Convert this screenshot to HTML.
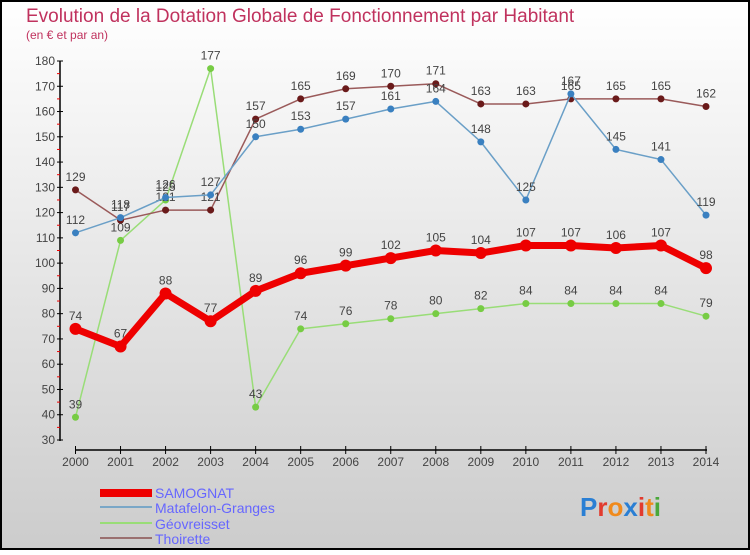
<!DOCTYPE html>
<html><head><meta charset="utf-8"><style>
html,body{margin:0;padding:0;}
body{width:750px;height:550px;overflow:hidden;font-family:"Liberation Sans",sans-serif;}
svg text{font-family:"Liberation Sans",sans-serif;}
</style></head><body>
<svg width="750" height="550" xmlns="http://www.w3.org/2000/svg">
<defs><linearGradient id="bg" x1="0" y1="0" x2="0" y2="1"><stop offset="0" stop-color="#ffffff"/><stop offset="1" stop-color="#cccccc"/></linearGradient></defs>
<rect x="1" y="1" width="748" height="548" fill="url(#bg)" stroke="#000" stroke-width="2"/>
<text x="26" y="22" font-size="19" fill="#c0325e">Evolution de la Dotation Globale de Fonctionnement par Habitant</text>
<text x="26" y="39" font-size="12" fill="#c0325e">(en € et par an)</text>
<g id="axes"></g>
<g id="series"></g>
<g id="legend">
<rect x="100" y="489" width="52" height="8" fill="#ee0000"/>
<text x="155" y="498" font-size="14" fill="#6666ff">SAMOGNAT</text>
<rect x="100" y="506" width="52" height="2" fill="#7aa7c7"/>
<text x="155" y="513" font-size="14" fill="#6666ff">Matafelon-Granges</text>
<rect x="100" y="522" width="52" height="2" fill="#99dd77"/>
<text x="155" y="529" font-size="14" fill="#6666ff">Géovreisset</text>
<rect x="100" y="537" width="52" height="2" fill="#9a7070"/>
<text x="155" y="544" font-size="14" fill="#6666ff">Thoirette</text>
</g>
<text x="580" y="516" font-size="26" font-weight="bold"><tspan fill="#2a7fd4">P</tspan><tspan fill="#e23b2e">r</tspan><tspan fill="#f08a1c">o</tspan><tspan fill="#2a7fd4">x</tspan><tspan fill="#e23b2e">i</tspan><tspan fill="#f08a1c">t</tspan><tspan fill="#4aa83a">i</tspan></text>
</svg>
<script>
const years=[2000,2001,2002,2003,2004,2005,2006,2007,2008,2009,2010,2011,2012,2013,2014];
const samognat=[74,67,88,77,89,96,99,102,105,104,107,107,106,107,98];
const matafelon=[112,118,126,127,150,153,157,161,164,148,125,167,145,141,119];
const geovreisset=[39,109,125,177,43,74,76,78,80,82,84,84,84,84,79];
const thoirette=[129,117,121,121,157,165,169,170,171,163,163,165,165,165,162];
const yTicks=[30,40,50,60,70,80,90,100,110,120,130,140,150,160,170,180];
const NS="http://www.w3.org/2000/svg";
function X(i){return 75.5+i*(706-75.5)/(years.length-1);}
function Y(v){return 440-(v-30)*(440-61)/150;}
function mk(t,a,p){const e=document.createElementNS(NS,t);for(const k in a)e.setAttribute(k,a[k]);p.appendChild(e);return e;}
const ax=document.getElementById('axes');
let yl=mk('line',{x1:60,y1:61,x2:60,y2:441,stroke:'#000','stroke-width':1.5},ax);


yTicks.forEach(v=>{
 mk('line',{x1:57,y1:Y(v),x2:63,y2:Y(v),stroke:'#000'},ax);
 if(v<180) mk('line',{x1:57,y1:Y(v+5),x2:60,y2:Y(v+5),stroke:'#e00'},ax);
 const t=mk('text',{x:55,y:Y(v)+4,'font-size':12,'text-anchor':'end',fill:'#444'},ax);t.textContent=v;
 
 
});
let xl=mk('line',{x1:75,y1:450,x2:707,y2:450,stroke:'#000','stroke-width':1.5},ax);


years.forEach((y,i)=>{
 mk('line',{x1:X(i),y1:446,x2:X(i),y2:454,stroke:'#000'},ax);
 const t=mk('text',{x:X(i),y:466,'font-size':12,'text-anchor':'middle',fill:'#444'},ax);t.textContent=y;
 
 
});
const sg=document.getElementById('series');
function draw(vals,name,color,dot,w,r){
 const g=mk('g',{},sg);
 
 
 const pl=mk('polyline',{points:vals.map((v,i)=>X(i)+','+Y(v)).join(' '),fill:'none',stroke:color,'stroke-width':w,'stroke-linejoin':'round'},g);
 
 
 vals.forEach((v,i)=>{
  const c=mk('circle',{cx:X(i),cy:Y(v),r:r,fill:dot},g);
  
  
  const t=mk('text',{x:X(i),y:Y(v)-9,'font-size':12,'text-anchor':'middle',fill:'#444'},g);t.textContent=v;
  
  
 });
}
draw(geovreisset,'geovreisset','#99dd77','#77cc44',1.5,3.5);
draw(thoirette,'thoirette','#9a5a5a','#6a1a1a',1.5,3.5);
draw(matafelon,'matafelon','#6a9fc7','#3a80c0',1.5,3.5);
draw(samognat,'samognat','#ee0000','#ee0000',7,6);
</script>
</body></html>
